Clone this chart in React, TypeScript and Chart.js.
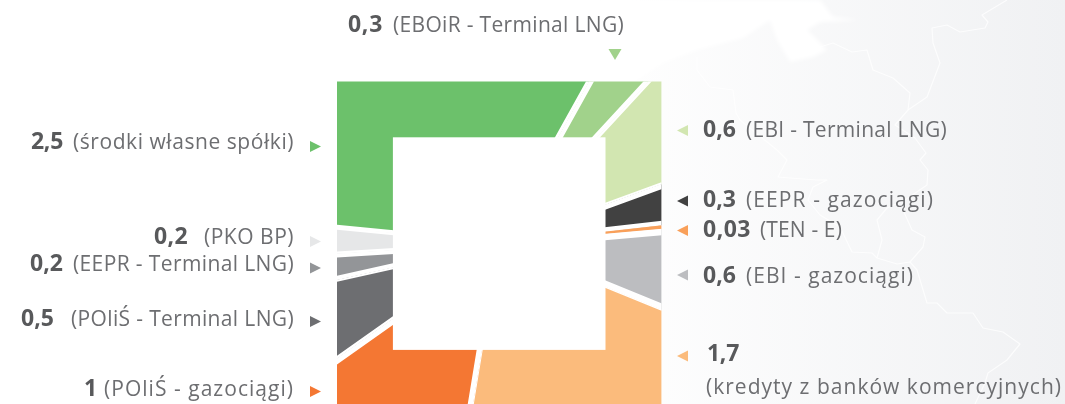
import React, { useEffect, useRef } from "react";
import { Chart, registerables } from "chart.js";

Chart.register(...registerables);

// ---- data, clockwise from the "own funds" slice ----
const categories = [
  "środki własne spółki",
  "EBOiR - Terminal LNG",
  "EBI - Terminal LNG",
  "EEPR - gazociągi",
  "TEN - E",
  "EBI - gazociągi",
  "kredyty z banków komercyjnych",
  "POliŚ - gazociągi",
  "POliŚ - Terminal LNG",
  "EEPR - Terminal LNG",
  "PKO BP",
];
const values = [2.5, 0.3, 0.6, 0.3, 0.03, 0.6, 1.7, 1, 0.5, 0.2, 0.2];
const valueTexts = ["2,5", "0,3", "0,6", "0,3", "0,03", "0,6", "1,7", "1", "0,5", "0,2", "0,2"];
const colors = [
  "#6cc16b", "#a1d28b", "#d2e6b1", "#414141", "#f9a05a", "#bcbdc0",
  "#fbbb7c", "#f47733", "#6d6e71", "#939598", "#e6e7e8",
];

// ---- styling / layout ----
const gapWidths = [3, 4, 2, 4.5, 0, 6, 1, 5, 2, 4, 2];
const ROTATION = 275.6;
const CENTER_X = 499.2;
const CENTER_Y = 243.6;
const HALF_OUTER = 162.2;
const HALF_INNER = 106.3;

// [value x, value width, name x, name width, text centre y, name text]
type Place = [number, number, number, number, number, string];
const places: Place[] = [
  [31, 32, 73, 221, 140, "(środki własne spółki)"],
  [348, 35, 393, 231, 23, "(EBOiR - Terminal LNG)"],
  [703, 33, 746, 201, 128, "(EBI - Terminal LNG)"],
  [703, 33, 746, 188, 198, "(EEPR - gazociągi)"],
  [703, 48, 760, 82, 228, "(TEN - E)"],
  [703, 33, 746, 168, 274, "(EBI - gazociągi)"],
  [707, 32, 706, 356, 352, "(kredyty z banków komercyjnych)"],
  [84, 9, 104, 190, 387, "(POliŚ - gazociągi)"],
  [21, 33, 71, 223, 317, "(POliŚ - Terminal LNG)"],
  [30, 33, 73, 221, 262, "(EEPR - Terminal LNG)"],
  [154, 34, 204, 90, 235, "(PKO BP)"],
];
// [centre x, centre y, direction: r | l | d]
const markers: [number, number, string][] = [
  [315.5, 146.5, "r"],
  [615, 54.5, "d"],
  [682.5, 130.5, "l"],
  [682.5, 201, "l"],
  [682.5, 230.5, "l"],
  [682.5, 275, "l"],
  [682.5, 356, "l"],
  [315.5, 391.5, "r"],
  [315.5, 321.5, "r"],
  [315.5, 268, "r"],
  [315.5, 241.5, "r"],
];

const seaOutline = [
  [600, 0], [820, 0], [833, 17], [860, 20], [820, 22], [807, 30], [827, 50], [813, 57], [790, 62],
  [777, 40], [770, 20], [743, 38], [697, 50], [663, 63], [637, 80], [600, 90],
];
const borderLines = [
  [[820, 47], [833, 43], [852, 52], [867, 50], [873, 70], [893, 78], [910, 93], [908, 110], [895, 125], [915, 138], [926, 153], [920, 160], [928, 170], [927, 185], [905, 200], [887, 208], [877, 220], [882, 240], [877, 258]],
  [[903, 210], [912, 230], [925, 237], [923, 247], [910, 262], [917, 270], [927, 303], [937, 303], [947, 313], [973, 313], [983, 328], [1003, 332], [1020, 344], [1007, 360], [988, 373], [985, 383], [975, 404]],
  [[697, 57], [697, 70], [710, 87], [733, 90], [736, 113], [740, 120], [777, 150], [787, 160], [778, 177], [790, 178], [817, 180], [827, 180], [813, 187], [808, 200], [820, 215], [840, 227], [852, 252], [872, 253], [877, 258], [897, 264], [910, 262]],
  [[1007, 0], [982, 15], [988, 22], [985, 28], [960, 32], [947, 25], [932, 28], [933, 43], [940, 63], [927, 97], [908, 110]],
];

const backdrop = {
  id: "backdrop",
  beforeDraw(chart: any) {
    const { ctx, width, height } = chart;
    ctx.save();
    const g = ctx.createLinearGradient(600, 0, width, 0);
    g.addColorStop(0, "#ffffff");
    g.addColorStop(1, "#f0f1f3");
    ctx.fillStyle = g;
    ctx.fillRect(0, 0, width, height);
    ctx.filter = "blur(2px)";
    ctx.fillStyle = "#ffffff";
    ctx.beginPath();
    seaOutline.forEach(([x, y], i) => (i ? ctx.lineTo(x, y) : ctx.moveTo(x, y)));
    ctx.closePath();
    ctx.fill();
    ctx.filter = "blur(0.6px)";
    ctx.strokeStyle = "rgba(255,255,255,0.75)";
    ctx.lineWidth = 1.2;
    ctx.lineJoin = "round";
    borderLines.forEach((line) => {
      ctx.beginPath();
      line.forEach(([x, y], i) => (i ? ctx.lineTo(x, y) : ctx.moveTo(x, y)));
      ctx.stroke();
    });
    ctx.restore();
  },
};

const squareFrame = {
  id: "squareFrame",
  beforeDatasetsDraw(chart: any) {
    const { ctx } = chart;
    const meta = chart.getDatasetMeta(0).data[0];
    ctx.save();
    ctx.beginPath();
    ctx.rect(meta.x - HALF_OUTER, meta.y - HALF_OUTER, HALF_OUTER * 2, HALF_OUTER * 2);
    ctx.clip();
  },
  afterDatasetsDraw(chart: any) {
    const { ctx } = chart;
    ctx.restore();
    const meta = chart.getDatasetMeta(0).data[0];
    ctx.fillStyle = "#ffffff";
    ctx.fillRect(meta.x - HALF_INNER, meta.y - HALF_INNER, HALF_INNER * 2, HALF_INNER * 2);
    markers.forEach(([x, y, dir], i) => {
      ctx.fillStyle = colors[i];
      ctx.beginPath();
      if (dir === "r") {
        ctx.moveTo(x - 5.5, y - 5.5);
        ctx.lineTo(x + 5.5, y);
        ctx.lineTo(x - 5.5, y + 5.5);
      } else if (dir === "l") {
        ctx.moveTo(x + 5.5, y - 5.5);
        ctx.lineTo(x - 5.5, y);
        ctx.lineTo(x + 5.5, y + 5.5);
      } else {
        ctx.moveTo(x - 6.5, y - 5.5);
        ctx.lineTo(x + 6.5, y - 5.5);
        ctx.lineTo(x, y + 5.5);
      }
      ctx.closePath();
      ctx.fill();
    });
  },
};

const FONT_NAME = '400 21px "Open Sans"';
const FONT_VALUE = '700 23px "Open Sans"';

function spacingFor(text: string, font: string, target: number) {
  const c = document.createElement("canvas").getContext("2d")!;
  c.font = font;
  return (target - c.measureText(text).width) / text.length;
}

function Text({ text, x, y, width, font, color }: any) {
  return (
    <span
      style={{
        position: "absolute",
        left: x,
        top: y,
        transform: "translateY(-50%)",
        font,
        color,
        lineHeight: 1,
        whiteSpace: "pre",
        letterSpacing: spacingFor(text, font, width),
      }}
    >
      {text}
    </span>
  );
}

export default function App() {
  const ref = useRef<HTMLCanvasElement>(null);
  useEffect(() => {
    document.body.style.margin = "0";
    const chart = new Chart(ref.current!, {
      type: "pie",
      data: {
        labels: categories,
        datasets: [
          {
            data: values,
            backgroundColor: colors,
            borderColor: "#ffffff",
            borderWidth: gapWidths,
            borderAlign: "inner",
            clip: false,
          } as any,
        ],
      },
      options: {
        responsive: false,
        animation: false,
        radius: 245,
        rotation: ROTATION,
        layout: {
          padding: {
            left: 0,
            top: 2 * CENTER_Y - 404,
            right: 1065 - 2 * CENTER_X,
            bottom: 0,
          },
        },
        plugins: { legend: { display: false }, tooltip: { enabled: false }, title: { display: false } },
      } as any,
      plugins: [backdrop, squareFrame],
    });
    return () => chart.destroy();
  }, []);
  return (
    <div style={{ position: "relative", width: 1065, height: 404, overflow: "hidden" }}>
      <canvas ref={ref} width={1065} height={404} style={{ display: "block" }} />
      {places.map(([vx, vw, nx, nw, y, name], i) => (
        <React.Fragment key={i}>
          <Text text={valueTexts[i]} x={vx} y={y} width={vw} font={FONT_VALUE} color="#58595b" />
          <Text
            text={name}
            x={nx}
            y={i === 6 ? 386 : y + 1}
            width={nw}
            font={FONT_NAME}
            color="#6d6e71"
          />
        </React.Fragment>
      ))}
    </div>
  );
}
